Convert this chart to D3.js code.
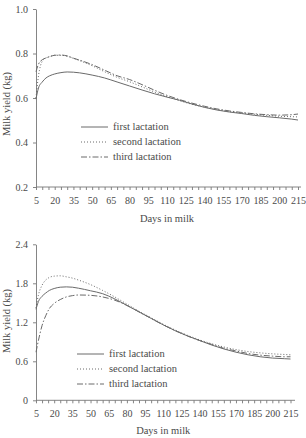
<!DOCTYPE html>
<html>
<head>
<meta charset="utf-8">
<script src="https://cdn.jsdelivr.net/npm/d3@7"></script>
<style>
  body { margin: 0; background: #fff; }
  svg text { font-family: "Liberation Serif", "Times New Roman", serif; fill: #4a4a4a; }
</style>
</head>
<body>
<div id="chart"></div>
<script>
// days in milk at which the curves were read
let days = [5, 7, 10, 13, 16, 20, 25, 30, 35, 40, 50, 60, 70, 80, 90, 100, 110, 120, 130, 140, 150, 160, 170, 180, 190, 200, 210, 215]

// upper panel (0.2 - 1.0 kg)
let topFirst  = [0.595, 0.645, 0.672, 0.69, 0.70, 0.708, 0.714, 0.717, 0.716, 0.713, 0.703, 0.69, 0.672, 0.654, 0.636, 0.619, 0.604, 0.59, 0.573, 0.558, 0.546, 0.537, 0.53, 0.522, 0.516, 0.511, 0.505, 0.501]
let topSecond = [0.60, 0.70, 0.765, 0.78, 0.786, 0.792, 0.792, 0.788, 0.778, 0.768, 0.745, 0.718, 0.693, 0.673, 0.65, 0.627, 0.606, 0.588, 0.572, 0.559, 0.548, 0.539, 0.533, 0.527, 0.522, 0.518, 0.516, 0.515]
let topThird  = [0.718, 0.752, 0.772, 0.78, 0.786, 0.792, 0.793, 0.789, 0.779, 0.77, 0.75, 0.725, 0.70, 0.683, 0.66, 0.635, 0.612, 0.593, 0.577, 0.563, 0.551, 0.542, 0.535, 0.529, 0.525, 0.523, 0.525, 0.528]

// lower panel (0 - 2.4 kg)
let botFirst  = [1.40, 1.52, 1.60, 1.65, 1.69, 1.72, 1.74, 1.745, 1.74, 1.725, 1.685, 1.64, 1.56, 1.46, 1.36, 1.26, 1.16, 1.07, 0.99, 0.92, 0.85, 0.79, 0.74, 0.70, 0.67, 0.65, 0.64, 0.635]
let botSecond = [1.42, 1.62, 1.77, 1.85, 1.89, 1.91, 1.915, 1.90, 1.88, 1.85, 1.78, 1.69, 1.59, 1.48, 1.37, 1.27, 1.17, 1.08, 1.00, 0.93, 0.87, 0.82, 0.78, 0.75, 0.73, 0.715, 0.705, 0.70]
let botThird  = [0.74, 0.92, 1.15, 1.30, 1.41, 1.49, 1.55, 1.59, 1.61, 1.62, 1.615, 1.59, 1.54, 1.46, 1.36, 1.26, 1.16, 1.07, 0.99, 0.92, 0.86, 0.80, 0.76, 0.72, 0.695, 0.68, 0.67, 0.67]

let legendNames = ['first lactation', 'second lactation', 'third lactation']
let topTicksY = [0.2, 0.4, 0.6, 0.8, 1.0]
let botTicksY = [0, 0.6, 1.2, 1.8, 2.4]
let labelDays = [5, 20, 35, 50, 65, 80, 95, 110, 125, 140, 155, 170, 185, 200, 215]

let dashes = [null, '1,2', '6,2,1.5,2']
let lineColor = '#6a6a6a'

let svg = d3.select('#chart').append('svg')
    .attr('width', 306)
    .attr('height', 438)

function drawPanel(opts) {
    let g = svg.append('g')
    let xScale = d3.scaleLinear().domain([5, 215]).range([opts.x0, opts.x1])
    let yScale = d3.scaleLinear().domain(opts.yDomain).range([opts.yBottom, opts.yTop])

    let minorDays = d3.range(5, 216, 5)
    let xAxis = d3.axisBottom(xScale)
        .tickValues(minorDays)
        .tickSize(3)
        .tickSizeOuter(0)
        .tickPadding(7)
        .tickFormat(d => labelDays.includes(d) ? d : '')
    let gx = g.append('g').attr('transform', `translate(0,${opts.yBottom})`).call(xAxis)
    gx.select('.domain').attr('d', `M${opts.x0},0H${opts.xEnd}`)

    let yAxis = d3.axisLeft(yScale)
        .tickValues(opts.yTicks)
        .tickSize(3)
        .tickSizeOuter(0)
        .tickPadding(5)
        .tickFormat(opts.yFormat)
    g.append('g').attr('transform', `translate(${opts.x0},0)`).call(yAxis)

    g.selectAll('.domain, .tick line').attr('stroke', '#777').attr('stroke-width', 0.9)
    g.selectAll('.tick text').attr('font-size', 10).attr('fill', '#4a4a4a')
        .style('font-family', '"Liberation Serif", serif')

    let line = d3.line()
        .x((d, i) => xScale(days[i]))
        .y(d => yScale(d))
        .curve(d3.curveMonotoneX)

    opts.series.forEach(function (s, i) {
        g.append('path')
            .attr('d', line(s))
            .attr('fill', 'none')
            .attr('stroke', lineColor)
            .attr('stroke-width', 1)
            .attr('stroke-dasharray', dashes[i])
    })

    // legend
    legendNames.forEach(function (name, i) {
        let y = opts.legendY + i * 15
        g.append('line')
            .attr('x1', opts.legendX).attr('x2', opts.legendX + 27)
            .attr('y1', y).attr('y2', y)
            .attr('stroke', lineColor)
            .attr('stroke-width', 1)
            .attr('stroke-dasharray', dashes[i])
        g.append('text')
            .attr('x', opts.legendX + 32).attr('y', y)
            .attr('dy', '0.32em')
            .attr('font-size', 10.5)
            .text(name)
    })

    g.append('text')
        .attr('x', (opts.x0 + opts.x1) / 2)
        .attr('y', opts.xTitleY)
        .attr('text-anchor', 'middle')
        .attr('dy', '0.32em')
        .attr('font-size', 10.5)
        .text('Days in milk')

    g.append('text')
        .attr('transform', `translate(7,${opts.yTitleY}) rotate(-90)`)
        .attr('text-anchor', 'middle')
        .attr('dy', '0.32em')
        .attr('font-size', 10.5)
        .text('Milk yield (kg)')
}

drawPanel({
    x0: 36, x1: 298, xEnd: 301,
    yTop: 9, yBottom: 187,
    yDomain: [0.2, 1.0], yTicks: topTicksY, yFormat: d3.format('.1f'),
    series: [topFirst, topSecond, topThird],
    legendX: 81, legendY: 127,
    xTitleY: 219, yTitleY: 104
})

drawPanel({
    x0: 36, x1: 290.5, xEnd: 295,
    yTop: 244.3, yBottom: 400.3,
    yDomain: [0, 2.4], yTicks: botTicksY, yFormat: d => d === 0 ? '0' : d3.format('.1f')(d),
    series: [botFirst, botSecond, botThird],
    legendX: 77, legendY: 354,
    xTitleY: 431, yTitleY: 321
})
</script>
</body>
</html>
